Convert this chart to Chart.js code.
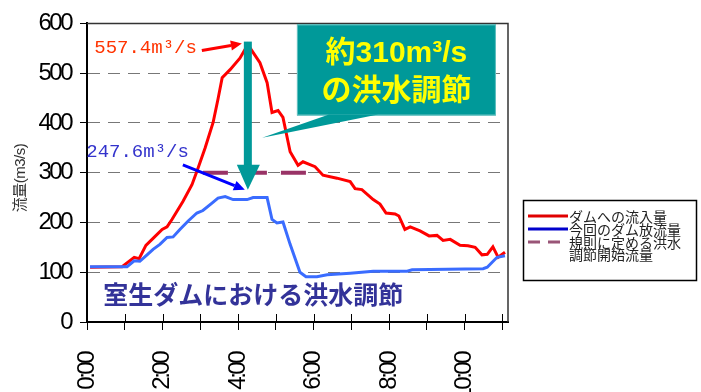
<!DOCTYPE html>
<html><head><meta charset="utf-8">
<script src="https://cdn.jsdelivr.net/npm/chart.js@4/dist/chart.umd.min.js"></script>
<style>html,body{margin:0;padding:0;background:#fff;overflow:hidden}#wrap{position:relative;width:701px;height:392px}</style>
</head><body><div id="wrap"><canvas id="c" width="701" height="392"></canvas></div>
<script>
// ---- data (time in hours from 0:00, flow in m3/s) ----
const inflowTimes  = [0.08,0.93,1.25,1.38,1.56,1.75,1.99,2.12,2.25,2.54,2.78,2.94,3.13,3.34,3.47,3.58,3.79,4.05,4.26,4.58,4.77,4.90,5.06,5.19,5.38,5.59,5.72,6.04,6.25,6.62,6.97,7.10,7.28,7.58,7.76,7.92,8.16,8.26,8.42,8.56,8.82,9.06,9.27,9.43,9.62,9.88,10.09,10.28,10.46,10.60,10.75,10.89,11.07];
const inflowValues = [110,111,130,127,154,168,186,191,206,242,276,309,350,401,448,491,507,530,557.4,521,481,421,425,411,342,315,322,312,295,289,282,268,266,246,237,219,217,213,186,191,183,173,174,164,166,154,153,150,135,136,151,130,140];
const outflowTimes  = [0.08,1.06,1.25,1.40,1.59,1.75,1.93,2.12,2.28,2.46,2.68,2.91,3.07,3.31,3.47,3.66,3.87,4.24,4.40,4.77,4.90,5.03,5.19,5.38,5.64,5.80,6.09,6.36,6.97,7.58,8.48,8.61,10.49,10.60,10.86,11.07];
const outflowValues = [111,111,123,122,135,146,156,170,171,186,203,219,224,239,249,252,246,246,250,250,206,199,201,156,100,91,91,95,98,102,102,105,107,110,130,133];
const thresholdTimes  = [3.07, 5.85];
const thresholdValues = [300, 300];
const hourTicks  = [0,1,2,3,4,5,6,7,8,9,10,11];
const hourLabels = ['0:00','','2:00','','4:00','','6:00','','8:00','','10:00',''];
const flowTicks  = [0,100,200,300,400,500,600];
const seriesNames = ['ダムへの流入量','今回のダム放流量','規則に定める洪水','調節開始流量'];
const peakTime = 4.26, peakInflow = 557.4, peakOutflow = 247.6, controlAmount = 310;

const pts = (ts, vs) => ts.map((t, i) => ({x: t, y: vs[i]}));
const JP = '"Noto Sans CJK JP"';
const NUM = '"Liberation Sans",Arial,sans-serif';

function arrow(ctx, x1, y1, x2, y2, color, w, head, hw) {
  const ang = Math.atan2(y2 - y1, x2 - x1);
  const bx = x2 - Math.cos(ang) * head, by = y2 - Math.sin(ang) * head;
  ctx.strokeStyle = color; ctx.fillStyle = color; ctx.lineWidth = w;
  ctx.beginPath(); ctx.moveTo(x1, y1); ctx.lineTo(bx, by); ctx.stroke();
  ctx.beginPath(); ctx.moveTo(x2, y2);
  ctx.lineTo(bx + Math.sin(ang) * hw, by - Math.cos(ang) * hw);
  ctx.lineTo(bx - Math.sin(ang) * hw, by + Math.cos(ang) * hw);
  ctx.closePath(); ctx.fill();
}

// tighter letter spacing for the axis tick labels (condensed look of the original)
const tightTicks = {
  id: 'tightTicks',
  beforeDraw(chart) { chart.ctx.letterSpacing = '-2.5px'; },
  beforeDatasetsDraw(chart) { chart.ctx.letterSpacing = '0px'; }
};

const annot = {
  id: 'annot',
  afterDatasetsDraw(chart) {
    const {ctx, chartArea: a, scales: {x, y}} = chart;
    ctx.save();
    ctx.letterSpacing = '0px';
    // frame top/right
    ctx.strokeStyle = '#333'; ctx.lineWidth = 1.5;
    ctx.beginPath(); ctx.moveTo(a.left, a.top); ctx.lineTo(a.right, a.top); ctx.lineTo(a.right, a.bottom); ctx.stroke();
    // inner part of x ticks
    ctx.strokeStyle = '#000'; ctx.lineWidth = 1;
    hourTicks.forEach(h => { const px = Math.round(x.getPixelForValue(h)) + 0.5; if (h === 0) return;
      ctx.beginPath(); ctx.moveTo(px, a.bottom - 8); ctx.lineTo(px, a.bottom); ctx.stroke(); });

    const px = x.getPixelForValue(peakTime);
    const pyTop = y.getPixelForValue(peakInflow);
    const pyTip = y.getPixelForValue(peakOutflow + 18);
    // callout box
    const bx1 = x.getPixelForValue(5.56), bx2 = x.getPixelForValue(10.83);
    const by1 = y.getPixelForValue(598), by2 = y.getPixelForValue(415);
    ctx.fillStyle = '#009999';
    ctx.fillRect(bx1, by1, bx2 - bx1, by2 - by1);
    ctx.strokeStyle = '#66c2c2'; ctx.lineWidth = 1; ctx.strokeRect(bx1 + 0.5, by1 + 0.5, bx2 - bx1 - 1, by2 - by1 - 1);
    ctx.beginPath();
    ctx.moveTo(x.getPixelForValue(6.41), by2 - 1);
    ctx.lineTo(x.getPixelForValue(7.71), by2 - 1);
    ctx.lineTo(x.getPixelForValue(4.64), y.getPixelForValue(370));
    ctx.closePath(); ctx.fill();
    ctx.fillStyle = '#ffff00';
    ctx.font = 'bold 30px "Liberation Sans",' + JP;
    ctx.textAlign = 'center'; ctx.textBaseline = 'middle';
    const cx = (bx1 + bx2) / 2;
    ctx.fillText('約' + controlAmount + 'm³/s', cx, by1 + 29);
    ctx.fillText('の洪水調節', cx, by1 + 67);

    // teal vertical arrow
    ctx.fillStyle = '#009999';
    ctx.fillRect(px - 4, pyTop - 3, 8, pyTip - 24 - (pyTop - 3));
    ctx.beginPath(); ctx.moveTo(px - 11, pyTip - 25); ctx.lineTo(px + 12, pyTip - 25); ctx.lineTo(px, pyTip); ctx.closePath(); ctx.fill();

    // red label + arrow
    ctx.font = '19px "Liberation Mono",monospace';
    ctx.textAlign = 'right';
    ctx.fillStyle = '#ff3300';
    ctx.fillText(peakInflow.toFixed(1) + 'm³/s', px - 51, pyTop + 3);
    arrow(ctx, px - 46, pyTop + 6, px - 6, pyTop - 1, '#ff0000', 3, 11, 5);
    // blue label + arrow
    ctx.fillStyle = '#3333cc';
    ctx.fillText(peakOutflow.toFixed(1) + 'm³/s', px - 59, y.getPixelForValue(341));
    arrow(ctx, px - 65, pyTip - 25, px - 3, pyTip, '#0000ff', 3, 11, 5);

    // title inside plot
    ctx.font = 'bold 25px ' + JP;
    ctx.fillStyle = '#333399'; ctx.textAlign = 'center';
    ctx.fillText('室生ダムにおける洪水調節', x.getPixelForValue(4.4), y.getPixelForValue(56));

    // y title
    ctx.save();
    ctx.translate(21, 178); ctx.rotate(-Math.PI / 2);
    ctx.font = '15px "Liberation Sans",' + JP; ctx.fillStyle = '#333';
    ctx.letterSpacing = '-0.5px';
    ctx.fillText('流量(m3/s)', 0, 0);
    ctx.restore();

    // legend
    const lx = a.right + 15, ly = 200;
    ctx.fillStyle = '#fff'; ctx.fillRect(lx, ly, 174, 81);
    ctx.strokeStyle = '#000'; ctx.lineWidth = 1.5; ctx.strokeRect(lx + 0.5, ly + 0.5, 173, 80);
    const rows = [[16, '#e00000', [] , seriesNames[0]], [29, '#0000cc', [], seriesNames[1]], [42, '#995577', [12, 8], seriesNames[2]]];
    ctx.font = '14px ' + JP; ctx.textAlign = 'left'; ctx.textBaseline = 'middle';
    rows.forEach(r => {
      ctx.strokeStyle = r[1]; ctx.lineWidth = 3; ctx.setLineDash(r[2]);
      ctx.beginPath(); ctx.moveTo(lx + 5, ly + r[0]); ctx.lineTo(lx + 45, ly + r[0]); ctx.stroke();
      ctx.setLineDash([]);
      ctx.fillStyle = '#222'; ctx.fillText(r[3], lx + 46, ly + r[0] + 1);
    });
    ctx.fillText(seriesNames[3], lx + 46, ly + 55);
    ctx.restore();
  }
};

new Chart(document.getElementById('c'), {
  type: 'line',
  data: {
    datasets: [
      {label: seriesNames[0], data: pts(inflowTimes, inflowValues), borderColor: '#ff0000', borderWidth: 3, pointRadius: 0, tension: 0, order: 1},
      {label: seriesNames[1], data: pts(outflowTimes, outflowValues), borderColor: '#3a6cff', borderWidth: 3, pointRadius: 0, tension: 0, order: 0},
      {label: seriesNames[2] + seriesNames[3], data: pts(thresholdTimes, thresholdValues), borderColor: '#993366', borderWidth: 4, borderDash: [25, 14], pointRadius: 0, order: 2}
    ]
  },
  options: {
    responsive: false, animation: false, events: [],
    layout: {padding: {top: 19, right: 193, left: 0, bottom: 0}},
    plugins: {legend: {display: false}, tooltip: {enabled: false}},
    scales: {
      x: {
        type: 'linear', min: 0, max: 11.15,
        afterBuildTicks: s => { s.ticks = hourTicks.map(v => ({value: v})); },
        afterFit: s => { s.height = 70; },
        ticks: {autoSkip: false, maxRotation: 90, minRotation: 90, padding: 23, color: '#000',
          font: {family: NUM, size: 24}, callback: (v) => hourLabels[hourTicks.indexOf(v)]},
        grid: {drawOnChartArea: false, drawTicks: true, tickLength: 8, tickColor: '#000', tickWidth: 1},
        border: {color: '#000', width: 2}
      },
      y: {
        min: 0, max: 600,
        afterBuildTicks: s => { s.ticks = flowTicks.map(v => ({value: v})); },
        afterFit: s => { s.width = 87; },
        ticks: {padding: 9, color: '#000', font: {family: NUM, size: 24}},
        grid: {color: c => (c.tick && c.tick.value > 0 && c.tick.value < 600) ? '#777' : 'rgba(0,0,0,0)',
          lineWidth: 1, tickLength: 7, tickColor: '#000', tickWidth: 1},
        border: {color: '#000', width: 2, dash: [12, 8]}
      }
    }
  },
  plugins: [tightTicks, annot]
});
</script></body></html>
